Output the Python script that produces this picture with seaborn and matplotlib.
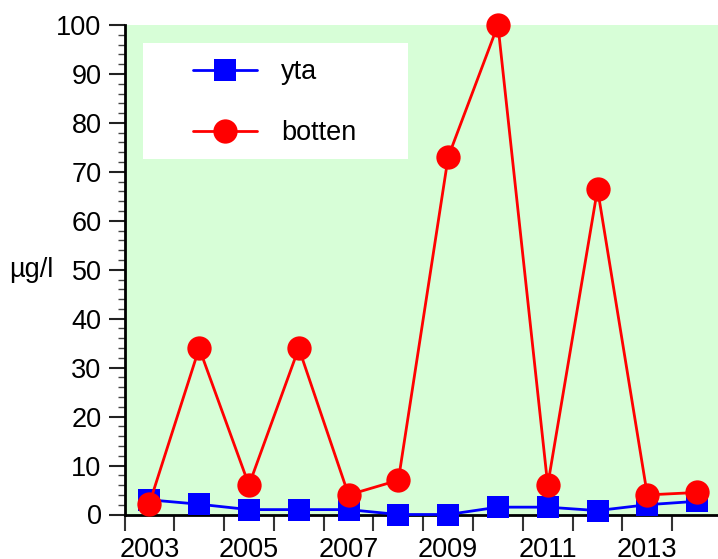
import pandas as pd
import matplotlib.pyplot as plt
import seaborn as sns
from matplotlib.patches import Rectangle

# Values (µg/l per year)
years = [2003, 2004, 2005, 2006, 2007, 2008, 2009, 2010, 2011, 2012, 2013, 2014]
yta = [3.0, 2.1, 1.0, 1.0, 1.0, 0.0, 0.0, 1.5, 1.5, 0.8, 2.0, 2.7]
botten = [2.2, 34.0, 6.0, 34.0, 4.0, 7.0, 73.0, 100.0, 6.0, 66.5, 4.0, 4.5]
year_labels = [2003, 2005, 2007, 2009, 2011, 2013]

sns.set_style("ticks")
plt.rcParams['font.family'] = ['Liberation Sans', 'DejaVu Sans']
plt.rcParams['text.color'] = 'black'
plt.rcParams['axes.labelcolor'] = 'black'
plt.rcParams['xtick.labelcolor'] = 'black'
plt.rcParams['ytick.labelcolor'] = 'black'

df = pd.DataFrame({'year': years, 'yta': yta, 'botten': botten})

fig = plt.figure(figsize=(7.18, 5.59), dpi=100)
ax = fig.add_axes([124.5 / 718, 44.5 / 559, 597.5 / 718, 489.5 / 559])
ax.set_facecolor('#d7fed7')

sns.lineplot(data=df, x='year', y='yta', ax=ax, color='#0000ff', marker='s',
             markersize=16, markeredgewidth=0, linewidth=2, clip_on=False,
             zorder=3, label='yta')
sns.lineplot(data=df, x='year', y='botten', ax=ax, color='#ff0000', marker='o',
             markersize=17.5, markeredgewidth=0, linewidth=2, clip_on=False,
             zorder=4, label='botten')

ax.set_xlim(2002.5, 2014.5)
ax.set_ylim(0, 100)

# x: tick marks at year boundaries, labels at odd-year centres
ax.set_xticks(year_labels)
ax.set_xticklabels([str(y) for y in year_labels])
ax.set_xticks([y - 0.5 for y in years] + [2014.5], minor=True)
ax.tick_params(axis='x', which='major', length=0, pad=16.5, labelsize=19.5)
ax.tick_params(axis='x', which='minor', length=11.5, width=1.5, color='#333333')

ax.set_yticks(range(0, 101, 10))
ax.set_yticks(range(0, 101, 2), minor=True)
ax.tick_params(axis='y', which='major', length=11.5, width=1.5, pad=5, labelsize=19.5,
               color='#222222')
ax.tick_params(axis='y', which='minor', length=5, width=1, color='#444444')

for side in ['top', 'right']:
    ax.spines[side].set_visible(False)
for side in ['left', 'bottom']:
    ax.spines[side].set_linewidth(2)
    ax.spines[side].set_color('black')
    ax.spines[side].set_zorder(2.5)

ax.set_xlabel('')
ax.set_ylabel('µg/l', rotation=0, fontsize=19.5, ha='center', va='center')
ax.yaxis.set_label_coords(-0.156, 0.5)

# white legend box
ax.add_patch(Rectangle(((143 - 124.5) / 597.5, (514.5 - 159) / 489.5),
                       265 / 597.5, 116 / 489.5, transform=ax.transAxes,
                       facecolor='white', edgecolor='none', zorder=2))
leg = ax.legend(loc='upper left', bbox_to_anchor=((193 - 124.5) / 597.5, (514.5 - 59) / 489.5),
                frameon=False, fontsize=19.5, handlelength=2.35, handletextpad=0.9,
                labelspacing=1.3, borderpad=0, borderaxespad=0)
leg.set_zorder(5)

fig.savefig('out.png', dpi=100)
